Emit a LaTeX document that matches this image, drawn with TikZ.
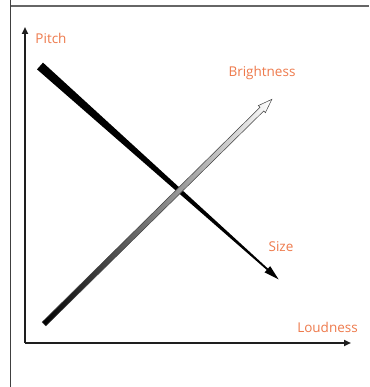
\documentclass[tikz,border=0pt]{standalone}
\usepackage{fontspec}
\setmainfont{Open Sans}
\usetikzlibrary{arrows.meta}
\definecolor{lbl}{HTML}{EE7A4C}
\definecolor{axis}{HTML}{1E1E1E}
\tikzset{
  lab/.style={text=lbl, font=\fontsize{13.5}{15}\selectfont, inner sep=0pt},
  axisline/.style={draw=axis, line width=2pt, -{Triangle[length=7pt,width=6pt]}},
}
\begin{document}
\begin{tikzpicture}[x=1pt,y=1pt]
\useasboundingbox (0,0) rectangle (369,387);
\fill[white] (0,0) rectangle (369,387);
% frame
\draw[draw=black!60, line width=2pt] (10,380.5) -- (369,380.5);
\draw[draw=black!75, line width=0.8pt] (10,387) -- (10,0);
% axes
\coordinate (O) at (25,44);
\coordinate (ytop) at (25,360);
\coordinate (xend) at (351,44);
\draw[axisline] (O) -- (ytop);
\draw[axisline] (O) -- (xend);
% pitch/size arrow (tapering)
\begin{scope}[shift={(40,321)}, rotate=-41.8]
  \fill[black] (0,4.5) -- (305,0.9) -- (305,4.2) -- (320,0) -- (305,-4.2) -- (305,-0.9) -- (0,-4.5) -- cycle;
\end{scope}
% brightness arrow (gradient)
\begin{scope}[shift={(44,63)}, rotate=44.6]
  \shade[left color=black, right color=white, draw=black!75, line width=0.5pt]
    (0,2.6) -- (306,2.6) -- (306,5) -- (320,0) -- (306,-5) -- (306,-2.6) -- (0,-2.6) -- cycle;
\end{scope}
% labels
\node[lab] (pitch) at (51,349) {Pitch};
\node[lab] (bright) at (262,314) {Brightness};
\node[lab] (size) at (281,140) {Size};
\node[lab] (loud) at (327.5,60) {Loudness};
\end{tikzpicture}
\end{document}
